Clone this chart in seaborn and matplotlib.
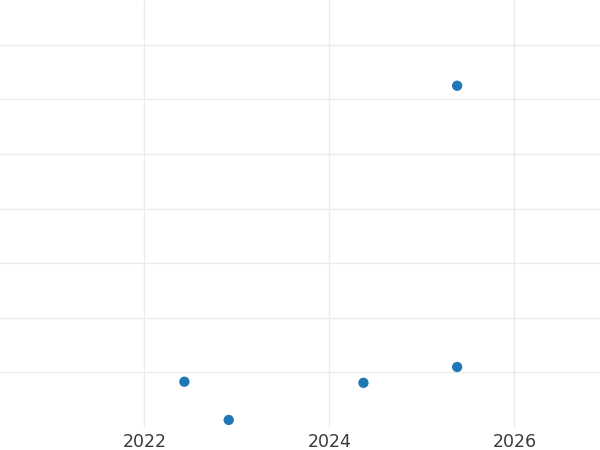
import pandas as pd
import seaborn as sns
import matplotlib.pyplot as plt
import matplotlib.dates as mdates

# valores
fechas = ["2022-06-08", "2022-11-30", "2024-05-15", "2025-05-20", "2025-05-20"]
valores = [83, 13, 81, 110, 625]

df = pd.DataFrame({"fecha": pd.to_datetime(fechas), "valor": valores})

sns.set_theme(style="whitegrid", rc={"grid.color": "#ebebeb", "axes.edgecolor": "white"})

fig = plt.figure(figsize=(6, 4.5), dpi=100)
ax = fig.add_axes([0, 0.051, 1, 0.949])

sns.scatterplot(x="fecha", y="valor", data=df, color="#1f77b4", s=55, edgecolor="none", ax=ax)

ax.set_xlim(pd.Timestamp("2020-06-10"), pd.Timestamp("2026-12-05"))
ax.set_ylim(0, 782)
ax.xaxis.set_major_locator(mdates.YearLocator(2))
ax.xaxis.set_major_formatter(mdates.DateFormatter("%Y"))
ax.set_yticks(range(100, 800, 100))
ax.tick_params(axis="y", labelleft=False, length=0)
ax.tick_params(axis="x", length=0, labelsize=12.5, labelcolor="#3a3a3a", pad=4)
ax.set_xlabel("")
ax.set_ylabel("")
for s in ax.spines.values():
    s.set_visible(False)

plt.savefig("out.png", dpi=100)
